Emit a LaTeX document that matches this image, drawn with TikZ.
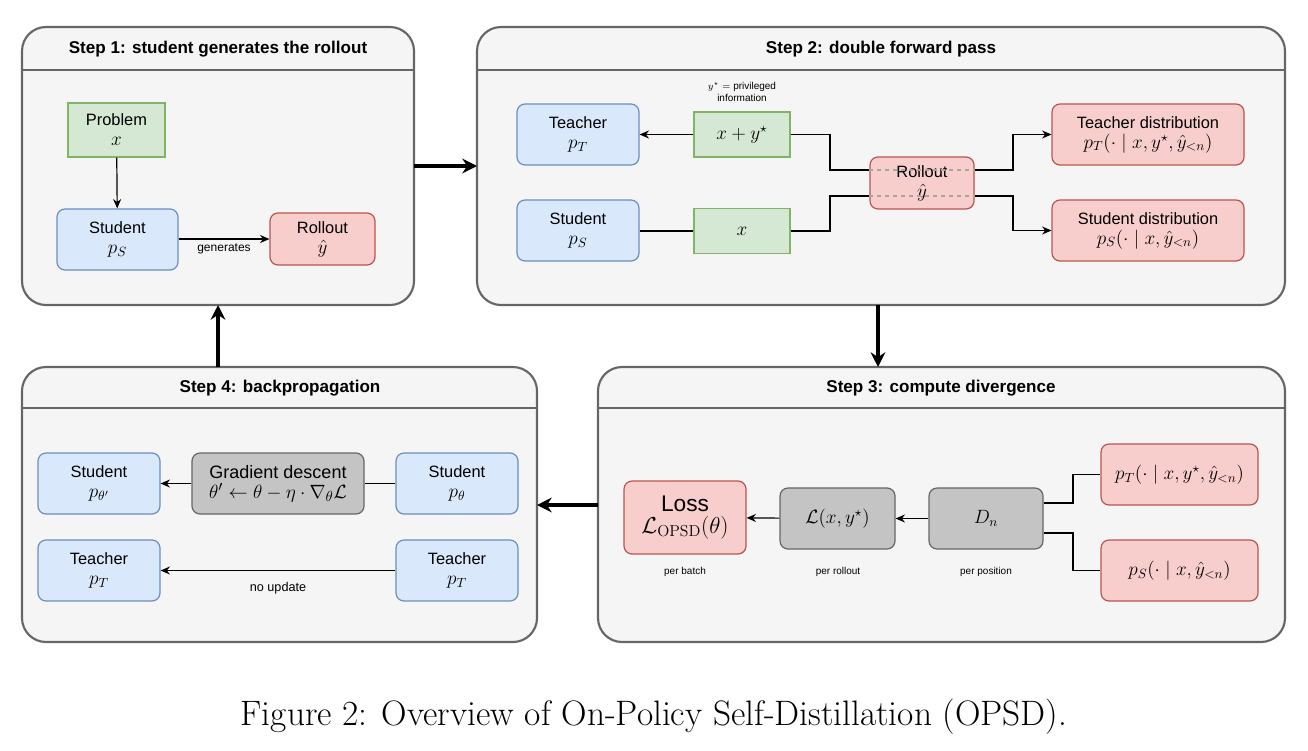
\documentclass[tikz,border=0pt]{standalone}
\usepackage{fontspec}
\usepackage{amsmath}
\setsansfont{Liberation Sans}
\usetikzlibrary{arrows.meta}
\definecolor{pfill}{HTML}{F5F5F5}
\definecolor{pdraw}{HTML}{666666}
\definecolor{gfill}{HTML}{D5E8D4}\definecolor{gdraw}{HTML}{82B366}
\definecolor{bfill}{HTML}{DAE8FC}\definecolor{bdraw}{HTML}{6C8EBF}
\definecolor{rfill}{HTML}{F8CECC}\definecolor{rdraw}{HTML}{B85450}
\definecolor{kfill}{HTML}{C4C4C4}\definecolor{kdraw}{HTML}{666666}
\newcommand\mm[1]{{\fontsize{14.5}{18}\selectfont$#1$}}
\begin{document}
\begin{tikzpicture}[x=0.75pt,y=-0.75pt,font=\sffamily\fontsize{12.3}{15}\selectfont,
 panel/.style={draw=pdraw,fill=pfill,line width=1.6pt,rounded corners=18pt},
 ptitle/.style={font=\sffamily\bfseries\fontsize{12.8}{15}\selectfont},
 bx/.style={rectangle,inner sep=0pt,align=center,line width=0.9pt},
 gbox/.style={bx,draw=gdraw,fill=gfill},
 bbox/.style={bx,draw=bdraw,fill=bfill,rounded corners=6pt},
 rbox/.style={bx,draw=rdraw,fill=rfill,rounded corners=6pt},
 kbox/.style={bx,draw=kdraw,fill=kfill,rounded corners=6pt},
 con/.style={line width=0.9pt},
 arr/.style={con,-{Stealth[length=7pt,width=6pt]}},
 big/.style={line width=3pt,-{Stealth[length=11pt,width=11pt]}},
 small/.style={font=\sffamily\fontsize{7.5}{9}\selectfont,align=center}]
\useasboundingbox (0,0) rectangle (1308,750);
% panels
\path[panel] (22,27) rectangle (414,305);
\draw[pdraw,line width=1.2pt] (22,70) -- (414,70);
\node[ptitle] (t1) at (218,49) {Step 1: student generates the rollout};
\path[panel] (477,27) rectangle (1285,305);
\draw[pdraw,line width=1.2pt] (477,70) -- (1285,70);
\node[ptitle] (t2) at (881,49) {Step 2: double forward pass};
\path[panel] (598,367) rectangle (1285,642);
\draw[pdraw,line width=1.2pt] (598,408) -- (1285,408);
\node[ptitle] (t3) at (941,388) {Step 3: compute divergence};
\path[panel] (22,367) rectangle (537,642);
\draw[pdraw,line width=1.2pt] (22,408) -- (537,408);
\node[ptitle] (t4) at (280,388) {Step 4: backpropagation};
% step 1
\node[gbox,minimum width=97*0.75pt,minimum height=54*0.75pt] (prob) at (116.5,130) {Problem\\\mm{x}};
\node[bbox,minimum width=121*0.75pt,minimum height=61*0.75pt] (stu1) at (117.5,239.5) {Student\\\mm{p_S}};
\node[rbox,minimum width=105*0.75pt,minimum height=52*0.75pt] (roll1) at (322.5,239) {Rollout\\\mm{\hat y}};
\draw[arr] (prob) -- (stu1);
\draw[arr] (stu1.east |- roll1) -- node[below,font=\sffamily\fontsize{9}{10}\selectfont] (gen) {generates} (roll1);
% step 2
\node[bbox,minimum width=122*0.75pt,minimum height=61*0.75pt] (tea2) at (578,134.5) {Teacher\\\mm{p_T}};
\node[bbox,minimum width=122*0.75pt,minimum height=61*0.75pt] (stu2) at (578,230.5) {Student\\\mm{p_S}};
\node[gbox,minimum width=96*0.75pt,minimum height=45*0.75pt] (xy) at (742,134.5) {\mm{x+y^\star}};
\node[gbox,minimum width=96*0.75pt,minimum height=45*0.75pt] (xx) at (742,231) {\mm{x}};
\node[small] (priv) at (742,92) {$y^\star=$ privileged\\information};
\node[rbox,minimum width=104*0.75pt,minimum height=52*0.75pt] (roll2) at (922,183) {Rollout\\\mm{\hat y}};
\node[rbox,minimum width=192*0.75pt,minimum height=61*0.75pt] (tdist) at (1148,134.5) {Teacher distribution\\\mm{p_T(\cdot\mid x,y^\star,\hat y_{<n})}};
\node[rbox,minimum width=192*0.75pt,minimum height=61*0.75pt] (sdist) at (1148,230.5) {Student distribution\\\mm{p_S(\cdot\mid x,\hat y_{<n})}};
\draw[arr] (xy) -- (tea2);
\draw[con] (stu2.east |- xx) -- (xx);
\draw[con] (xy.east) -| (830,170) -- (roll2.west |- 0,170);
\draw[con] (xx.east) -| (830,196) -- (roll2.west |- 0,196);
\draw[arr] (roll2.east |- 0,170) -| (1013,134.5) -- (tdist.west);
\draw[arr] (roll2.east |- 0,196) -| (1013,230.5) -- (sdist.west);
\draw[gray!70,dashed,line width=0.9pt] (roll2.west |- 0,170) -- (roll2.east |- 0,170);
\draw[gray!70,dashed,line width=0.9pt] (roll2.west |- 0,196) -- (roll2.east |- 0,196);
% step 3
\node[rbox,minimum width=122*0.75pt,minimum height=73*0.75pt] (loss) at (685,517.5) {{\fontsize{17}{21}\selectfont Loss}\\[1pt]{\fontsize{17}{21}\selectfont$\mathcal{L}_{\mathrm{OPSD}}(\theta)$}};
\node[kbox,minimum width=115*0.75pt,minimum height=61*0.75pt] (lxy) at (837.5,518.5) {\mm{\mathcal{L}(x,y^\star)}};
\node[kbox,minimum width=114*0.75pt,minimum height=61*0.75pt] (dn) at (986,518.5) {\mm{D_n}};
\node[rbox,minimum width=157*0.75pt,minimum height=61*0.75pt] (pt3) at (1179.5,474.5) {\mm{p_T(\cdot\mid x,y^\star,\hat y_{<n})}};
\node[rbox,minimum width=157*0.75pt,minimum height=61*0.75pt] (ps3) at (1179.5,570.5) {\mm{p_S(\cdot\mid x,\hat y_{<n})}};
\node[small] (pb) at (685,572) {per batch};
\node[small] (pr) at (838,572) {per rollout};
\node[small] (pp) at (986,572) {per position};
\draw[arr] (dn) -- (lxy);
\draw[arr] (lxy) -- (loss);
\draw[con] (dn.east |- 0,503) -- (1073,503) |- (pt3.west);
\draw[con] (dn.east |- 0,533) -- (1073,533) |- (ps3.west);
% step 4
\node[bbox,minimum width=122*0.75pt,minimum height=61*0.75pt] (sp) at (99,483.5) {Student\\\mm{p_{\theta'}}};
\node[kbox,minimum width=172*0.75pt,minimum height=61*0.75pt] (gd) at (278,483.5) {{\fontsize{13.5}{17}\selectfont Gradient descent}\\{\fontsize{15}{18}\selectfont$\theta'\leftarrow\theta-\eta\cdot\nabla_\theta\mathcal{L}$}};
\node[bbox,minimum width=122*0.75pt,minimum height=61*0.75pt] (st) at (457,483.5) {Student\\\mm{p_\theta}};
\node[bbox,minimum width=122*0.75pt,minimum height=61*0.75pt] (tl) at (99,570.5) {Teacher\\\mm{p_T}};
\node[bbox,minimum width=122*0.75pt,minimum height=61*0.75pt] (tr) at (457,570.5) {Teacher\\\mm{p_T}};
\draw[con] (st) -- (gd);
\draw[arr] (gd) -- (sp);
\draw[arr] (tr) -- node[below=5pt,font=\sffamily\fontsize{9.5}{10}\selectfont] (nu) {no update} (tl);
% big arrows
\coordinate (a1) at (414,166); \coordinate (b1) at (477,166);
\coordinate (a2) at (878,305); \coordinate (b2) at (878,367);
\coordinate (a3) at (598,505); \coordinate (b3) at (537,505);
\coordinate (a4) at (218,367); \coordinate (b4) at (218,305);
\draw[big] (a1) -- (b1);
\draw[big] (a2) -- (b2);
\draw[big] (a3) -- (b3);
\draw[big] (a4) -- (b4);
% caption
\node[font=\rmfamily\fontsize{26.5}{30}\selectfont] (cap) at (654,717) {Figure 2: Overview of On-Policy Self-Distillation (OPSD).};
\end{tikzpicture}
\end{document}
